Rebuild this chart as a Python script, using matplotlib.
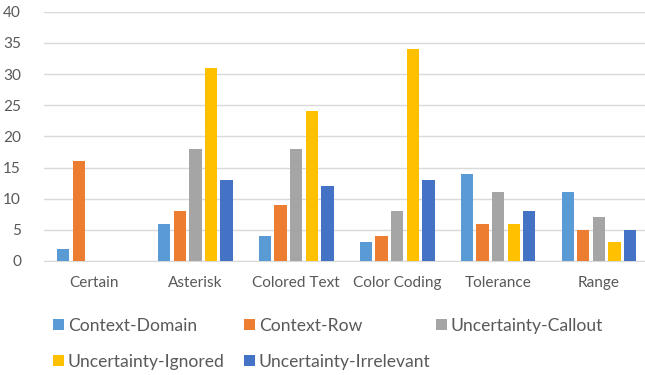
import numpy as np
import matplotlib.pyplot as plt
from matplotlib.textpath import TextPath
from matplotlib.font_manager import FontProperties

categories = ['Certain', 'Asterisk', 'Colored Text', 'Color Coding', 'Tolerance', 'Range']
series = ['Context-Domain', 'Context-Row', 'Uncertainty-Callout',
          'Uncertainty-Ignored', 'Uncertainty-Irrelevant']
context_domain = [2, 6, 4, 3, 14, 11]
context_row = [16, 8, 9, 4, 6, 5]
uncertainty_callout = [0, 18, 18, 8, 11, 7]
uncertainty_ignored = [0, 31, 24, 34, 6, 3]
uncertainty_irrelevant = [0, 13, 12, 13, 8, 5]

values = [context_domain, context_row, uncertainty_callout,
          uncertainty_ignored, uncertainty_irrelevant]
colors = ['#5B9BD5', '#ED7D31', '#A5A5A5', '#FFC000', '#4472C4']
text_color = '#595959'
W, H, DPI = 645, 375, 100

plt.rcParams['font.family'] = ['Lato', 'DejaVu Sans']


def size_for(s, px):
    # font size (pt) that makes the inked width of s about px pixels
    w = TextPath((0, 0), s, size=1, prop=FontProperties(family='Lato')).get_extents().width
    return px * 72 / (DPI * w)


tick_fs = size_for('Colored Text', 87)
leg_fs = size_for('Uncertainty-Ignored', 154)

fig = plt.figure(figsize=(W / DPI, H / DPI), dpi=DPI)
ax = fig.add_axes([44 / W, 114 / H, 601 / W, 249.3 / H])

x = np.arange(len(categories))
step = 0.155
width = 0.122
bars = []
for i, (name, vals, c) in enumerate(zip(series, values, colors)):
    b = ax.bar(x + (i - 2) * step, vals, width, color=c, label=name, zorder=3)
    bars.append(b)

ax.set_xlim(-0.5, 601 / 100.9 - 0.5)
ax.set_ylim(0, 40)
ax.set_yticks(range(0, 41, 5))
ax.set_xticks(x)
ax.set_xticklabels(categories)
ax.yaxis.grid(True, color='#D9D9D9', linewidth=1, zorder=0)
ax.tick_params(length=0, labelsize=tick_fs, labelcolor=text_color)
ax.tick_params(axis='x', pad=10.5)
ax.tick_params(axis='y', pad=16.5)
for s in ['top', 'right', 'left']:
    ax.spines[s].set_visible(False)
ax.spines['bottom'].set_color('#D9D9D9')

# legend laid out on a fixed grid: three columns, two rows
leg_pos = [(53, 325.7), (244, 325.7), (436, 325.7), (53, 361.7), (244, 361.7)]
hs = 11 / (leg_fs * DPI / 72)
for b, name, (lx, ly) in zip(bars, series, leg_pos):
    leg = fig.legend([b], [name], loc='center left',
                     bbox_to_anchor=(lx / W, 1 - ly / H),
                     frameon=False, fontsize=leg_fs, handlelength=hs, handleheight=hs,
                     handletextpad=0.22, borderpad=0, borderaxespad=0)
    for t in leg.get_texts():
        t.set_color(text_color)

fig.savefig('out.png', dpi=DPI)
